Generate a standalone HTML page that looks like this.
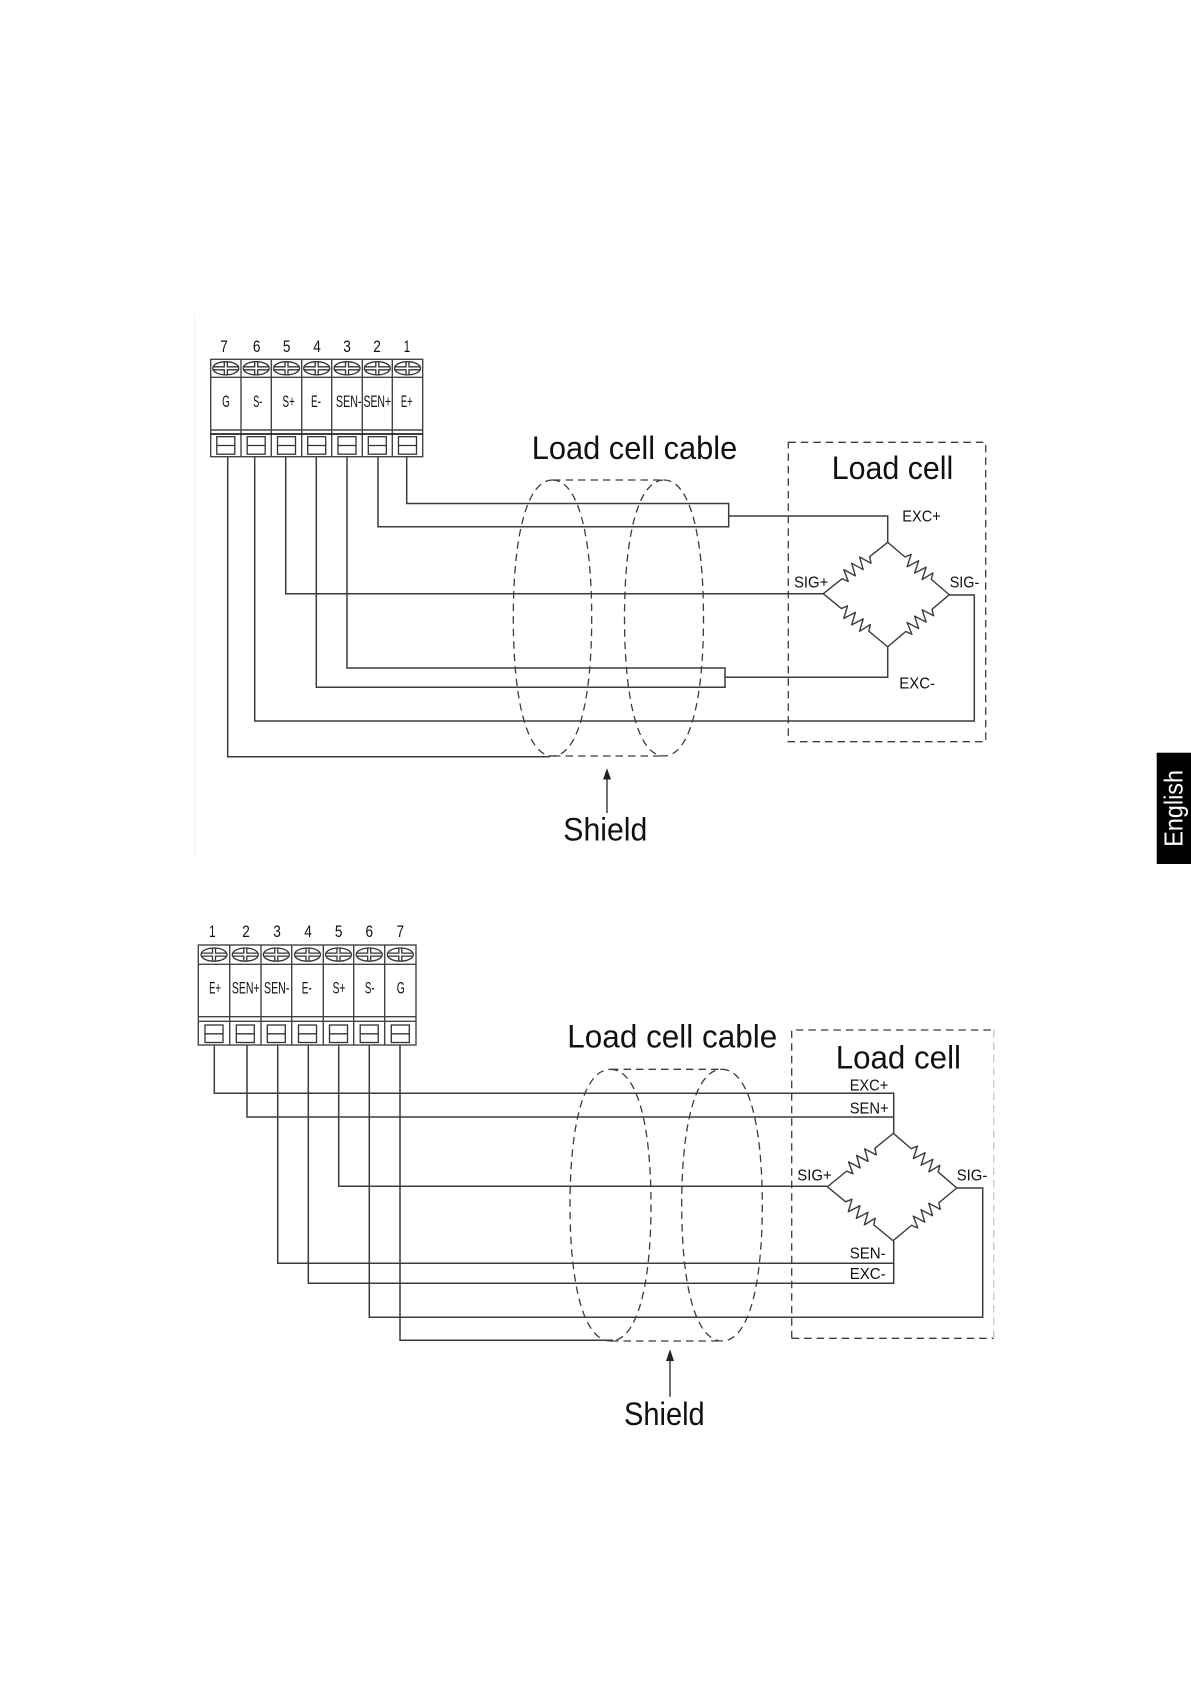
<!DOCTYPE html>
<html>
<head>
<meta charset="utf-8">
<style>
html,body{margin:0;padding:0;background:#fff;}
svg{display:block;}
text{font-family:"Liberation Sans",Arial,sans-serif;fill:#111;}
.w{fill:none;stroke:#3c3c3c;stroke-width:1.5;}
.b{fill:none;stroke:#444;stroke-width:1.4;}
.d{fill:none;stroke:#3c3c3c;stroke-width:1.3;stroke-dasharray:7.5 5;}
.big{font-size:32.5px;}
.mid{font-size:15.5px;}
.sm{font-size:17px;text-anchor:middle;}
</style>
</head>
<body>
<svg xmlns="http://www.w3.org/2000/svg" width="1191" height="1684" viewBox="0 0 1191 1684">
<defs>
<g id="screw" fill="none" stroke="#333" stroke-width="1.3">
<ellipse rx="13" ry="6.6"/>
<path d="M-12.5,-1.5H-1.5V-6.3M1.5,-6.3V-1.5H12.5M-12.5,1.5H-1.5V6.3M1.5,6.3V1.5H12.5"/>
</g>
<g id="term" fill="none" stroke="#333" stroke-width="1.3">
<rect x="-9" y="0" width="18" height="17.5"/>
<path d="M-9,8.8H9"/>
</g>
<path id="res" fill="none" stroke="#3c3c3c" stroke-width="1.4" stroke-linejoin="round" d="M0,0L23,0L26,-6L31,6L36,-6L41,6L46,-6L51,6L55,-6L58,0L82,0"/>
</defs>

<rect x="194" y="315" width="1" height="545" fill="#f3f3f3"/>

<g style="filter:blur(.3px)">
<!-- DIAGRAM 1 -->
<g class="b">
<rect x="210.7" y="359.3" width="212" height="97.4"/>
<path d="M241,359.3V456.7M271.3,359.3V456.7M301.7,359.3V456.7M331.7,359.3V456.7M362.3,359.3V456.7M392.3,359.3V456.7"/>
<path d="M210.7,377.3H422.7M210.7,430H422.7"/>
<path d="M210.7,434H422.7" style="stroke:#222;stroke-width:1.8"/>
</g>
<use href="#screw" x="225.8" y="368.3"/><use href="#screw" x="256.2" y="368.3"/><use href="#screw" x="286.5" y="368.3"/><use href="#screw" x="316.7" y="368.3"/><use href="#screw" x="347" y="368.3"/><use href="#screw" x="377.3" y="368.3"/><use href="#screw" x="407.5" y="368.3"/>
<use href="#term" x="225.8" y="436.7"/><use href="#term" x="256.2" y="436.7"/><use href="#term" x="286.5" y="436.7"/><use href="#term" x="316.7" y="436.7"/><use href="#term" x="347" y="436.7"/><use href="#term" x="377.3" y="436.7"/><use href="#term" x="407.5" y="436.7"/>

<text class="sm" x="224" y="352" textLength="7.6" lengthAdjust="spacingAndGlyphs">7</text>
<text class="sm" x="256.7" y="352" textLength="7.6" lengthAdjust="spacingAndGlyphs">6</text>
<text class="sm" x="286.7" y="352" textLength="7.6" lengthAdjust="spacingAndGlyphs">5</text>
<text class="sm" x="317" y="352" textLength="7.6" lengthAdjust="spacingAndGlyphs">4</text>
<text class="sm" x="347" y="352" textLength="7.6" lengthAdjust="spacingAndGlyphs">3</text>
<text class="sm" x="377" y="352" textLength="7.6" lengthAdjust="spacingAndGlyphs">2</text>
<text class="sm" x="407" y="352" textLength="6.4" lengthAdjust="spacingAndGlyphs">1</text>

<text class="sm" x="226" y="407" textLength="7.7" lengthAdjust="spacingAndGlyphs">G</text>
<text class="sm" x="257.7" y="407" textLength="9" lengthAdjust="spacingAndGlyphs">S-</text>
<text class="sm" x="288.7" y="407" textLength="12.3" lengthAdjust="spacingAndGlyphs">S+</text>
<text class="sm" x="316" y="407" textLength="10" lengthAdjust="spacingAndGlyphs">E-</text>
<text class="sm" x="348.7" y="407" textLength="25.7" lengthAdjust="spacingAndGlyphs">SEN-</text>
<text class="sm" x="377.3" y="407" textLength="27.7" lengthAdjust="spacingAndGlyphs">SEN+</text>
<text class="sm" x="406.7" y="407" textLength="11.7" lengthAdjust="spacingAndGlyphs">E+</text>

<g class="w">
<path d="M406.7,456.7V503.5H728.7V526.7H378V456.7"/>
<path d="M728.7,516H887.7V542.3"/>
<path d="M887.7,646.7V677.3H725"/>
<path d="M347,456.7V668H725V687.3H316.3V456.7"/>
<path d="M285.7,456.7V593.7H823.3"/>
<path d="M254.7,456.7V721H974.3V595H949.3"/>
<path d="M227.7,456.7V756.7H550"/>
</g>

<use href="#res" transform="translate(887.7,542.3) rotate(141.4) scale(1.005,1)"/>
<use href="#res" transform="translate(887.7,542.3) rotate(40.4) scale(.987,1)"/>
<use href="#res" transform="translate(823.3,593.7) rotate(39.5) scale(1.017,1)"/>
<use href="#res" transform="translate(949.3,594.7) rotate(139.8) scale(.983,1)"/>

<path class="d" d="M552.5,480C578,480 591.7,535 591.7,618C591.7,701 578,756 552.5,756C527,756 513.3,701 513.3,618C513.3,535 527,480 552.5,480Z"/>
<path class="d" d="M664,480C689.7,480 703.5,535 703.5,618C703.5,701 689.7,756 664,756C638.3,756 624.5,701 624.5,618C624.5,535 638.3,480 664,480Z"/>
<path class="d" d="M553,480H663M553,756H663"/>
<rect class="d" x="788.3" y="442.3" width="197.4" height="299.4"/>

<text class="big" x="531.7" y="459" textLength="205.6" lengthAdjust="spacingAndGlyphs">Load cell cable</text>
<text class="big" x="831.7" y="479" textLength="121.6" lengthAdjust="spacingAndGlyphs">Load cell</text>
<text class="big" x="563.3" y="840.7" textLength="84" lengthAdjust="spacingAndGlyphs">Shield</text>
<text class="mid" x="902.3" y="521.7" textLength="38.4" lengthAdjust="spacingAndGlyphs">EXC+</text>
<text class="mid" x="899.3" y="688.3" textLength="35.7" lengthAdjust="spacingAndGlyphs">EXC-</text>
<text class="mid" x="794" y="587.3" textLength="34.3" lengthAdjust="spacingAndGlyphs">SIG+</text>
<text class="mid" x="949.7" y="587.5" textLength="29.6" lengthAdjust="spacingAndGlyphs">SIG-</text>

<path d="M607,813V775" stroke="#333" stroke-width="1.4" fill="none"/>
<path d="M607,768.3L611,779.5H603Z" fill="#222"/>

<!-- DIAGRAM 2 -->
<g class="b">
<rect x="198.3" y="945" width="217.7" height="100"/>
<path d="M229.7,945V1045M261,945V1045M291.7,945V1045M323.3,945V1045M353.7,945V1045M384.7,945V1045"/>
<path d="M198.3,964.3H416M198.3,1016.7H416M198.3,1021.3H416"/>
</g>
<use href="#screw" x="214" y="954.6"/><use href="#screw" x="245.3" y="954.6"/><use href="#screw" x="276.3" y="954.6"/><use href="#screw" x="307.5" y="954.6"/><use href="#screw" x="338.5" y="954.6"/><use href="#screw" x="369.2" y="954.6"/><use href="#screw" x="400.3" y="954.6"/>
<use href="#term" x="214" y="1025"/><use href="#term" x="245.3" y="1025"/><use href="#term" x="276.3" y="1025"/><use href="#term" x="307.5" y="1025"/><use href="#term" x="338.5" y="1025"/><use href="#term" x="369.2" y="1025"/><use href="#term" x="400.3" y="1025"/>

<text class="sm" x="212.3" y="937" textLength="6.4" lengthAdjust="spacingAndGlyphs">1</text>
<text class="sm" x="246" y="937" textLength="7.6" lengthAdjust="spacingAndGlyphs">2</text>
<text class="sm" x="277" y="937" textLength="7.6" lengthAdjust="spacingAndGlyphs">3</text>
<text class="sm" x="308" y="937" textLength="7.6" lengthAdjust="spacingAndGlyphs">4</text>
<text class="sm" x="338.7" y="937" textLength="7.6" lengthAdjust="spacingAndGlyphs">5</text>
<text class="sm" x="369.3" y="937" textLength="7.6" lengthAdjust="spacingAndGlyphs">6</text>
<text class="sm" x="400.3" y="937" textLength="7.6" lengthAdjust="spacingAndGlyphs">7</text>

<text class="sm" x="215" y="993.5" textLength="11.7" lengthAdjust="spacingAndGlyphs">E+</text>
<text class="sm" x="245.7" y="993.5" textLength="27.7" lengthAdjust="spacingAndGlyphs">SEN+</text>
<text class="sm" x="276.7" y="993.5" textLength="25.3" lengthAdjust="spacingAndGlyphs">SEN-</text>
<text class="sm" x="306.7" y="993.5" textLength="10" lengthAdjust="spacingAndGlyphs">E-</text>
<text class="sm" x="339" y="993.5" textLength="12.7" lengthAdjust="spacingAndGlyphs">S+</text>
<text class="sm" x="369.7" y="993.5" textLength="9.7" lengthAdjust="spacingAndGlyphs">S-</text>
<text class="sm" x="400.7" y="993.5" textLength="8" lengthAdjust="spacingAndGlyphs">G</text>

<g class="w">
<path d="M214.3,1045V1093.3H893.7V1133.3"/>
<path d="M247,1045V1117H893.7"/>
<path d="M893.7,1240.7V1283.3H308.3V1045"/>
<path d="M277.7,1045V1263.3H893.7"/>
<path d="M338.7,1045V1186.3H827.3"/>
<path d="M369.3,1045V1317.3H982.7V1188H956.7"/>
<path d="M400,1045V1340.3H613"/>
</g>

<use href="#res" transform="translate(893.4,1133.3) rotate(141) scale(1.036,1)"/>
<use href="#res" transform="translate(893.4,1133.3) rotate(40.8) scale(1.02,1)"/>
<use href="#res" transform="translate(827.3,1186.7) rotate(39.4) scale(1.037,1)"/>
<use href="#res" transform="translate(956.7,1188) rotate(140.4) scale(1.008,1)"/>

<path class="d" d="M610.5,1069.3C637,1069.3 651,1124 651,1205C651,1286 637,1341 610.5,1341C584,1341 570,1286 570,1205C570,1124 584,1069.3 610.5,1069.3Z"/>
<path class="d" d="M722,1069.3C748.4,1069.3 762.3,1124 762.3,1205C762.3,1286 748.4,1341 722,1341C695.6,1341 681.7,1286 681.7,1205C681.7,1124 695.6,1069.3 722,1069.3Z"/>
<path class="d" d="M611,1069.3H722M611,1341H722"/>
<path class="d" d="M791.7,1338.3V1030H993.7"/>
<path class="d" d="M791.7,1338.3H993.7"/>
<path class="d" d="M993.7,1030V1338.3" style="stroke:#c8c8c8"/>

<text class="big" x="567.3" y="1047.7" textLength="210" lengthAdjust="spacingAndGlyphs">Load cell cable</text>
<text class="big" x="835.7" y="1068.3" textLength="125.3" lengthAdjust="spacingAndGlyphs">Load cell</text>
<text class="big" x="624" y="1425" textLength="80.7" lengthAdjust="spacingAndGlyphs">Shield</text>
<text class="mid" x="849.7" y="1090.7" textLength="38.6" lengthAdjust="spacingAndGlyphs">EXC+</text>
<text class="mid" x="849.7" y="1113.3" textLength="39" lengthAdjust="spacingAndGlyphs">SEN+</text>
<text class="mid" x="797.3" y="1180.3" textLength="34.4" lengthAdjust="spacingAndGlyphs">SIG+</text>
<text class="mid" x="956.7" y="1180.3" textLength="30.6" lengthAdjust="spacingAndGlyphs">SIG-</text>
<text class="mid" x="849.7" y="1258.3" textLength="36" lengthAdjust="spacingAndGlyphs">SEN-</text>
<text class="mid" x="849.7" y="1279" textLength="36" lengthAdjust="spacingAndGlyphs">EXC-</text>

<path d="M670,1396.7V1355" stroke="#333" stroke-width="1.4" fill="none"/>
<path d="M670,1349.3L674,1361H666Z" fill="#222"/>
</g>

<!-- English tab -->
<rect x="1156.7" y="752.7" width="34.3" height="111.3" fill="#000"/>
<text transform="translate(1182.3,846.7) rotate(-90)" font-size="26" style="fill:#fff" textLength="76.7" lengthAdjust="spacingAndGlyphs">English</text>
</svg>
</body>
</html>
